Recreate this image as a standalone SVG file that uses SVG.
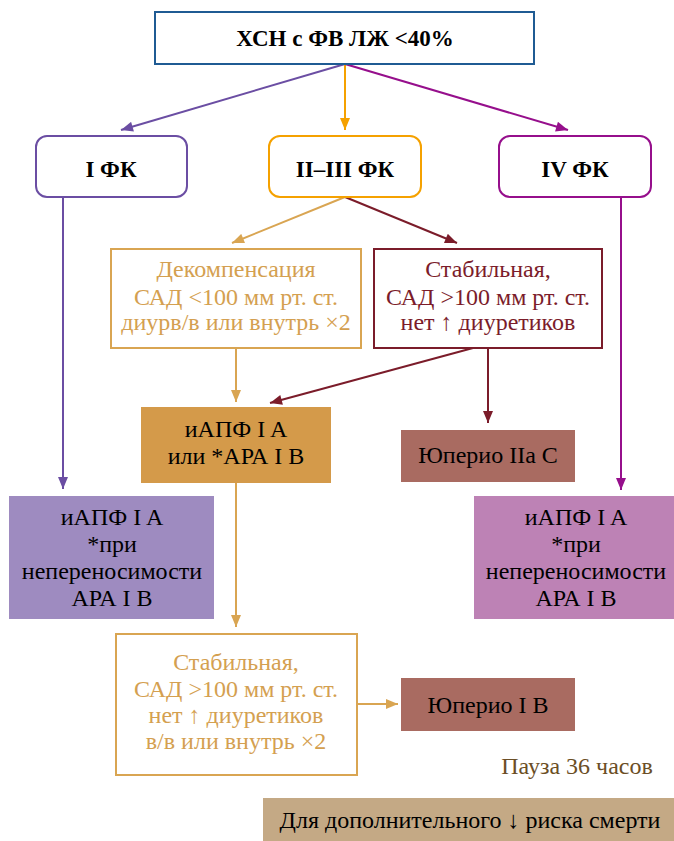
<svg xmlns="http://www.w3.org/2000/svg" width="674" height="841" viewBox="0 0 674 841">
<style>
text{font-family:'Liberation Serif','DejaVu Serif',serif;font-size:24px;text-anchor:middle}
.b{font-weight:bold;font-size:23px}
.ln{fill:none;stroke-width:2}
</style>
<defs>
<marker id="aP" viewBox="0 0 12 10" refX="12" refY="5" markerWidth="14" markerHeight="10" markerUnits="userSpaceOnUse" orient="auto"><path d="M0,0L12,5L0,10z" fill="#6b4ea3"/></marker>
<marker id="aO" viewBox="0 0 12 10" refX="12" refY="5" markerWidth="14" markerHeight="10" markerUnits="userSpaceOnUse" orient="auto"><path d="M0,0L12,5L0,10z" fill="#f5a100"/></marker>
<marker id="aM" viewBox="0 0 12 10" refX="12" refY="5" markerWidth="14" markerHeight="10" markerUnits="userSpaceOnUse" orient="auto"><path d="M0,0L12,5L0,10z" fill="#960f8c"/></marker>
<marker id="aT" viewBox="0 0 12 10" refX="12" refY="5" markerWidth="14" markerHeight="10" markerUnits="userSpaceOnUse" orient="auto"><path d="M0,0L12,5L0,10z" fill="#d9a552"/></marker>
<marker id="aR" viewBox="0 0 12 10" refX="12" refY="5" markerWidth="14" markerHeight="10" markerUnits="userSpaceOnUse" orient="auto"><path d="M0,0L12,5L0,10z" fill="#7b1c2a"/></marker>
</defs>

<g id="connectors">
<line class="ln" x1="345" y1="64" x2="121" y2="130" stroke="#6b4ea3" marker-end="url(#aP)"/>
<line class="ln" x1="345" y1="64" x2="345" y2="130" stroke="#f5a100" marker-end="url(#aO)"/>
<line class="ln" x1="345" y1="64" x2="568" y2="130" stroke="#960f8c" marker-end="url(#aM)"/>
<line class="ln" x1="345" y1="197" x2="232" y2="243" stroke="#d9a552" marker-end="url(#aT)"/>
<line class="ln" x1="345" y1="197" x2="457" y2="243" stroke="#7b1c2a" marker-end="url(#aR)"/>
<line class="ln" x1="236" y1="348" x2="236" y2="402" stroke="#d9a552" marker-end="url(#aT)"/>
<line class="ln" x1="473" y1="348" x2="270" y2="403" stroke="#7b1c2a" marker-end="url(#aR)"/>
<line class="ln" x1="488" y1="348" x2="488" y2="423" stroke="#7b1c2a" marker-end="url(#aR)"/>
<line class="ln" x1="63" y1="197" x2="63" y2="489" stroke="#6b4ea3" marker-end="url(#aP)"/>
<line class="ln" x1="621" y1="197" x2="621" y2="490" stroke="#960f8c" marker-end="url(#aM)"/>
<line class="ln" x1="236" y1="483" x2="236" y2="627" stroke="#d9a552" marker-end="url(#aT)"/>
<line class="ln" x1="357" y1="704" x2="398" y2="704" stroke="#d9a552" marker-end="url(#aT)"/>
</g>

<g id="n-top">
<rect x="155" y="12" width="379" height="52" fill="#fff" stroke="#1f5b93" stroke-width="2"/>
<text class="b" x="345" y="46">ХСН с ФВ ЛЖ &lt;40%</text>
</g>

<g id="n-fk1">
<rect x="36" y="136" width="151" height="61" rx="11" fill="#fff" stroke="#6b4ea3" stroke-width="2"/>
<text class="b" x="111" y="177">I ФК</text>
</g>

<g id="n-fk23">
<rect x="269" y="136" width="152" height="61" rx="11" fill="#fff" stroke="#f5a100" stroke-width="2"/>
<text class="b" x="345" y="177">II–III ФК</text>
</g>

<g id="n-fk4">
<rect x="499" y="136" width="152" height="61" rx="11" fill="#fff" stroke="#960f8c" stroke-width="2"/>
<text class="b" x="575" y="177">IV ФК</text>
</g>

<g id="n-decomp" fill="#d4a050">
<rect x="111" y="249" width="250" height="99" fill="#fff" stroke="#d9a552" stroke-width="2"/>
<text x="236" y="277">Декомпенсация</text>
<text x="236" y="305">САД &lt;100 мм рт. ст.</text>
<text x="236" y="330">диурв/в или внутрь ×2</text>
</g>

<g id="n-stable" fill="#7b1c2a">
<rect x="374" y="249" width="228" height="99" fill="#fff" stroke="#7b1c2a" stroke-width="2"/>
<text x="488" y="277">Стабильная,</text>
<text x="488" y="305">САД &gt;100 мм рт. ст.</text>
<text x="488" y="330">нет ↑ диуретиков</text>
</g>

<g id="n-iapf">
<rect x="141" y="407" width="190" height="76" fill="#d49a4a"/>
<text x="236" y="437">иАПФ I A</text>
<text x="236" y="464">или *АРА I B</text>
</g>

<g id="n-uperio2">
<rect x="401" y="430" width="174" height="52" fill="#a96b61"/>
<text x="488" y="463">Юперио IIa C</text>
</g>

<g id="n-left">
<rect x="9" y="496" width="205" height="123" fill="#9e8bc0"/>
<text x="112" y="525">иАПФ I A</text>
<text x="112" y="552">*при</text>
<text x="112" y="579">непереносимости</text>
<text x="112" y="606">АРА I B</text>
</g>

<g id="n-right">
<rect x="474" y="496" width="205" height="123" fill="#bd82b5"/>
<text x="576" y="525">иАПФ I A</text>
<text x="576" y="552">*при</text>
<text x="576" y="579">непереносимости</text>
<text x="576" y="606">АРА I B</text>
</g>

<g id="n-stable2" fill="#d4a050">
<rect x="116" y="634" width="241" height="141" fill="#fff" stroke="#d9a552" stroke-width="2"/>
<text x="236" y="670">Стабильная,</text>
<text x="236" y="697">САД &gt;100 мм рт. ст.</text>
<text x="236" y="723">нет ↑ диуретиков</text>
<text x="236" y="749">в/в или внутрь ×2</text>
</g>

<g id="n-uperio1">
<rect x="401" y="678" width="174" height="53" fill="#a96b61"/>
<text x="488" y="713">Юперио I B</text>
</g>

<g id="n-pause">
<text x="577" y="774" fill="#6b4e25">Пауза 36 часов</text>
</g>

<g id="n-band">
<rect x="263" y="798" width="411" height="43" fill="#c4a985"/>
<text x="470" y="828">Для дополнительного ↓ риска смерти</text>
</g>
</svg>
